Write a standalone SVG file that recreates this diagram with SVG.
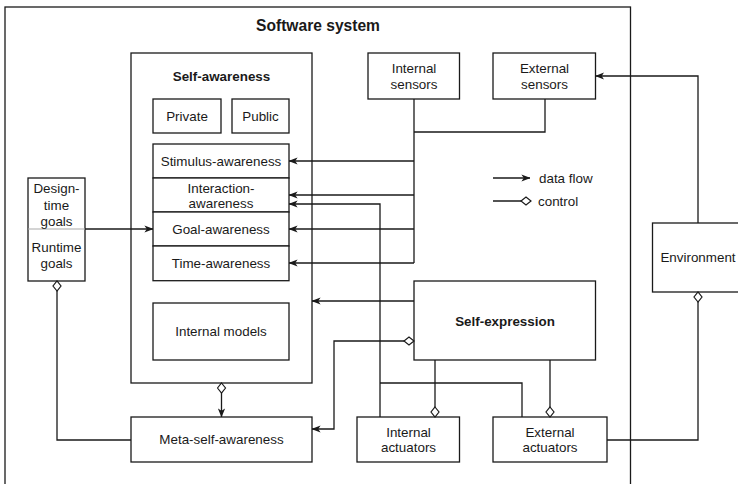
<svg xmlns="http://www.w3.org/2000/svg" width="738" height="484" viewBox="0 0 738 484">
<style>
.b{fill:#fff;stroke:#1a1a1a;stroke-width:1.3}
.t{font-family:"Liberation Sans",Arial,sans-serif;font-size:13.4px;fill:#1a1a1a;text-anchor:middle}
.bold{font-weight:bold}
.c{fill:none;stroke:#1a1a1a;stroke-width:1.3}
.a{marker-end:url(#arrow)}
.de{marker-end:url(#dia)}
.ds{marker-start:url(#dia)}
</style>
<defs>
<marker id="arrow" markerUnits="userSpaceOnUse" viewBox="0 0 9 8" markerWidth="9" markerHeight="8" refX="8.6" refY="4" orient="auto">
<path d="M0,0.4 L9,4 L0,7.6 L2.4,4 z" fill="#1a1a1a"/>
</marker>
<marker id="dia" markerUnits="userSpaceOnUse" viewBox="-1 -1 12 10" markerWidth="12" markerHeight="10" refX="10" refY="4" orient="auto">
<path d="M0,4 L5,0 L10,4 L5,8 z" fill="#fff" stroke="#1a1a1a" stroke-width="1.2"/>
</marker>
<marker id="dias" markerUnits="userSpaceOnUse" viewBox="-1 -1 12 10" markerWidth="12" markerHeight="10" refX="0" refY="4" orient="auto">
<path d="M0,4 L5,0 L10,4 L5,8 z" fill="#fff" stroke="#1a1a1a" stroke-width="1.2"/>
</marker>
</defs>

<g id="software-system">
<rect class="b" x="5" y="7" width="625.5" height="495"/>
<text class="t bold" x="318" y="31" style="font-size:15.6px">Software system</text>
</g>

<g id="self-awareness">
<rect class="b" x="131" y="53" width="181" height="330"/>
<text class="t bold" x="221.5" y="81">Self-awareness</text>
</g>
<g id="private"><rect class="b" x="153" y="99" width="68" height="34"/><text class="t" x="187" y="120.7">Private</text></g>
<g id="public"><rect class="b" x="232" y="99" width="57" height="34"/><text class="t" x="260.5" y="120.7">Public</text></g>
<g id="stimulus-awareness"><rect class="b" x="153" y="144" width="136" height="34"/><text class="t" x="221" y="165.7">Stimulus-awareness</text></g>
<g id="interaction-awareness"><rect class="b" x="153" y="178" width="136" height="34"/><text class="t" x="221" y="192.5">Interaction-</text><text class="t" x="221" y="207.5">awareness</text></g>
<g id="goal-awareness"><rect class="b" x="153" y="212" width="136" height="34"/><text class="t" x="221" y="233.7">Goal-awareness</text></g>
<g id="time-awareness"><rect class="b" x="153" y="246" width="136" height="34.7"/><text class="t" x="221" y="268">Time-awareness</text></g>
<g id="internal-models"><rect class="b" x="153" y="303" width="136" height="57"/><text class="t" x="221" y="336">Internal models</text></g>

<g id="meta-self-awareness"><rect class="b" x="131" y="417" width="181" height="45"/><text class="t" x="221.5" y="444">Meta-self-awareness</text></g>

<g id="goals">
<rect class="b" x="28" y="178" width="57" height="103"/>
<line x1="28" y1="229" x2="85" y2="229" stroke="#aaa" stroke-width="1.2"/>
<text class="t" x="56.5" y="193">Design-</text>
<text class="t" x="56.5" y="209.5">time</text>
<text class="t" x="56.5" y="225.5">goals</text>
<text class="t" x="56.5" y="252">Runtime</text>
<text class="t" x="56.5" y="267.5">goals</text>
</g>

<g id="internal-sensors"><rect class="b" x="368" y="53" width="91.5" height="46"/><text class="t" x="414" y="73">Internal</text><text class="t" x="414" y="88.7">sensors</text></g>
<g id="external-sensors"><rect class="b" x="493" y="53" width="102.5" height="46"/><text class="t" x="544.5" y="73">External</text><text class="t" x="544.5" y="88.7">sensors</text></g>

<g id="environment"><rect class="b" x="652.5" y="223" width="91.5" height="69"/><text class="t" x="698" y="262">Environment</text></g>

<g id="self-expression"><rect class="b" x="414" y="281" width="181.5" height="79"/><text class="t bold" x="505" y="325.5">Self-expression</text></g>

<g id="internal-actuators"><rect class="b" x="357" y="417" width="102.5" height="45"/><text class="t" x="408.5" y="437.4">Internal</text><text class="t" x="408.5" y="452.4">actuators</text></g>
<g id="external-actuators"><rect class="b" x="493" y="417" width="114" height="45"/><text class="t" x="550" y="437.4">External</text><text class="t" x="550" y="452.4">actuators</text></g>

<g id="connectors">
<path class="c" d="M414,99 V263"/>
<path class="c" d="M545,99 V132 H414"/>
<path class="c a" d="M414,161 H289"/>
<path class="c a" d="M414,195 H289"/>
<path class="c a" d="M414,229 H289"/>
<path class="c a" d="M414,263 H289"/>
<path class="c a" d="M380,417 V204 H289"/>
<path class="c" d="M522,417 V383 H380"/>
<path class="c a" d="M414,301 H312"/>
<path class="c a" d="M414,341 H334 V429 H312" style="marker-start:url(#dias)"/>
<path class="c de" d="M435,360 V417"/>
<path class="c de" d="M550,360 V417"/>
<path class="c de" d="M607,440 H698 V292"/>
<path class="c a" d="M698,223 V76 H595.5"/>
<path class="c a" d="M221.5,383 V417" style="marker-start:url(#dias)"/>
<path class="c de" d="M131,440 H57 V281"/>
<path class="c a" d="M85,229 H153"/>
</g>

<g id="legend">
<path class="c a" d="M493,178 H530"/>
<text class="t" x="539" y="182.7" style="text-anchor:start">data flow</text>
<path class="c de" d="M493,201 H531"/>
<text class="t" x="538" y="205.7" style="text-anchor:start">control</text>
</g>
</svg>
